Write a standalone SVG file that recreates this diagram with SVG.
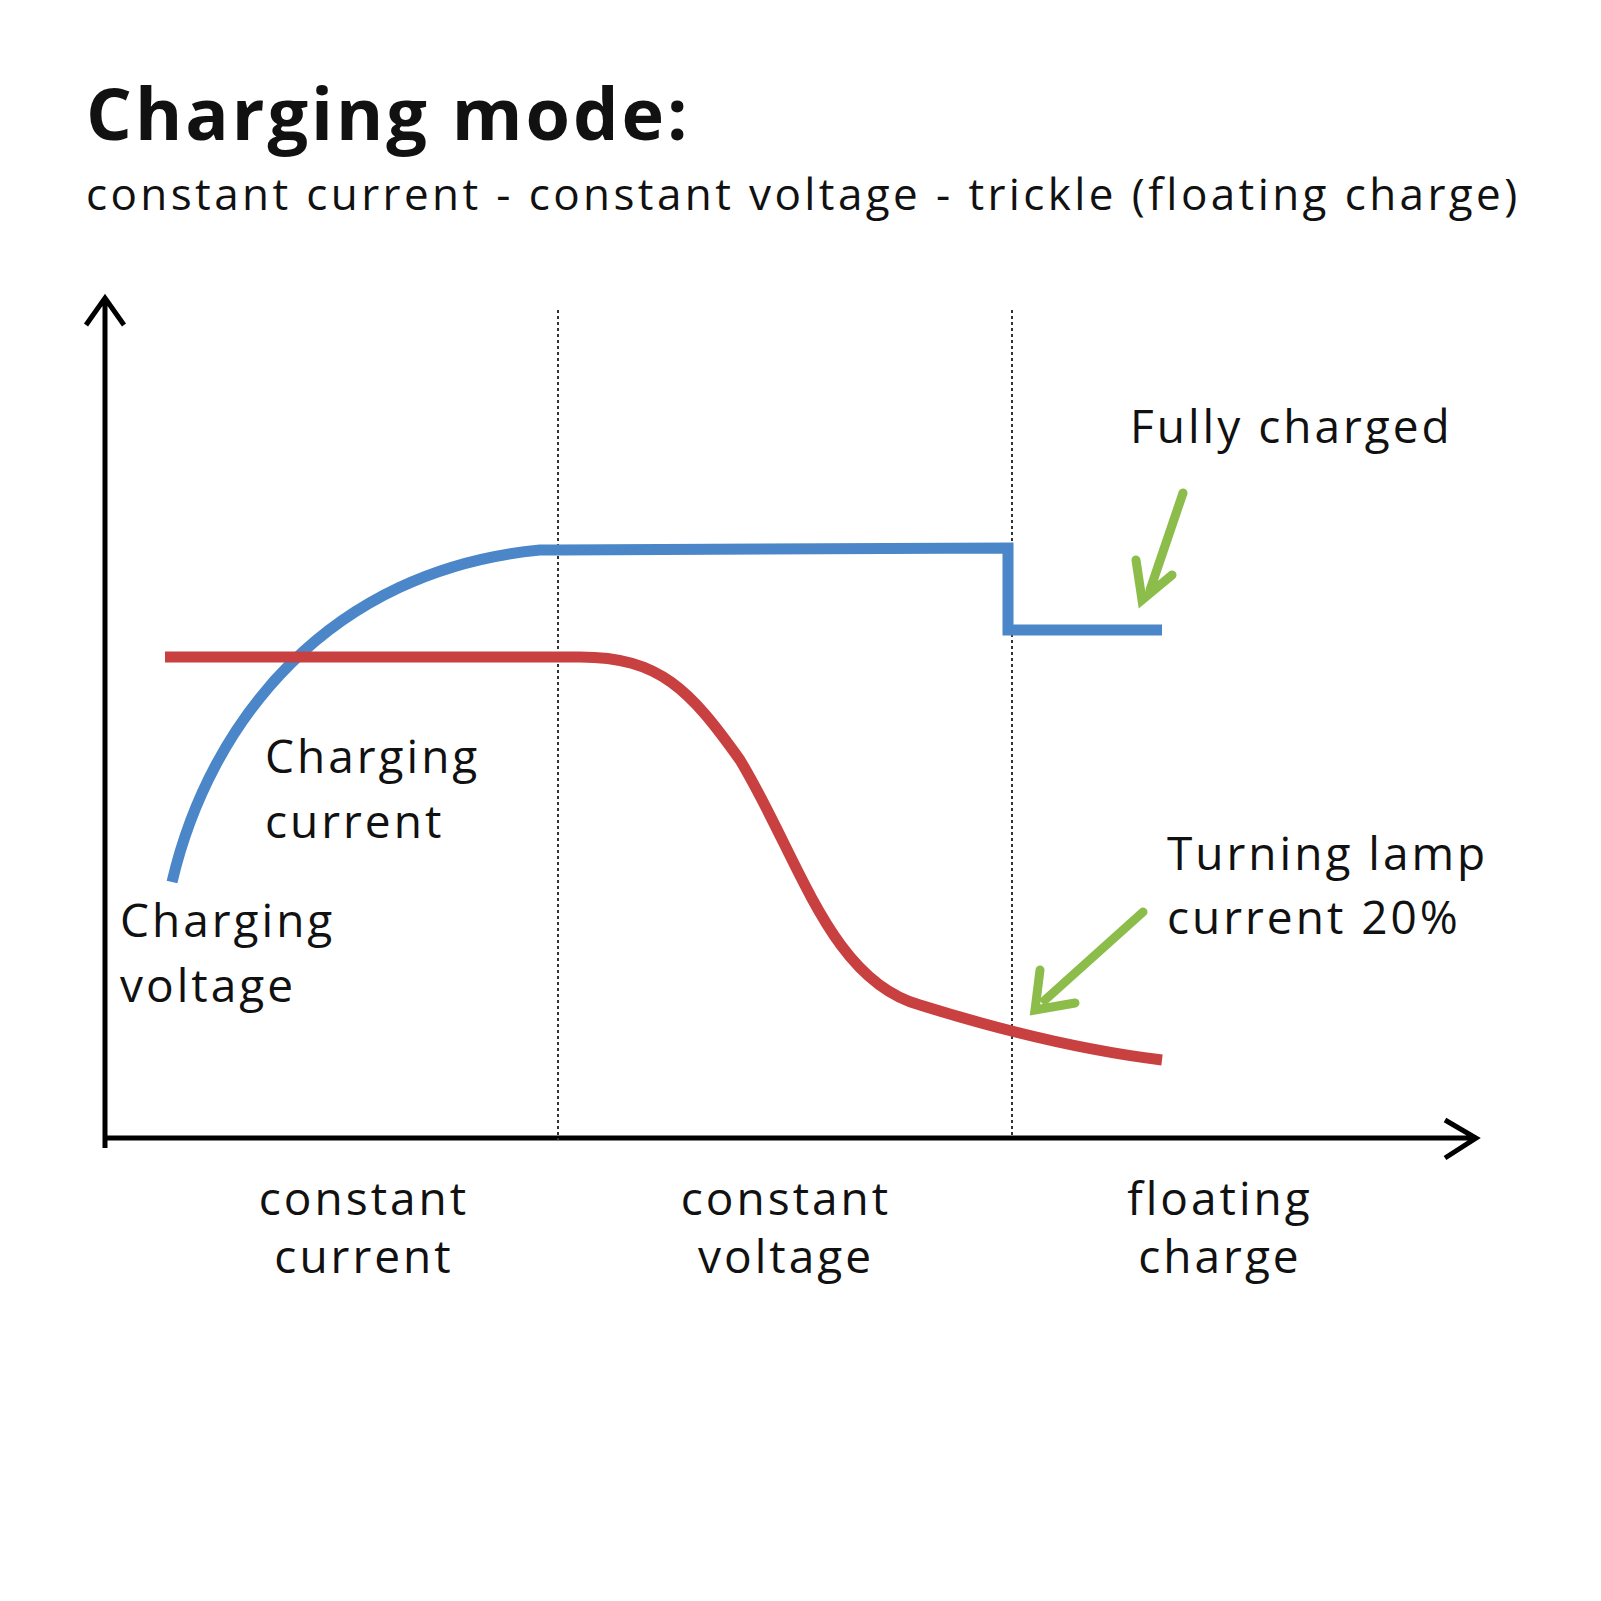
<svg xmlns="http://www.w3.org/2000/svg" width="1601" height="1601" viewBox="0 0 1601 1601">
<style>
text{font-family:"Open Sans","Noto Sans",sans-serif;fill:#111;letter-spacing:3px}
.l{font-size:46px}
.ax{stroke:#000;stroke-width:5;fill:none}
.dot{stroke:#333;stroke-width:2;stroke-dasharray:3 3}
.g{stroke:#8cbd4a;stroke-width:9;fill:none;stroke-linecap:round}
</style>
<rect width="1601" height="1601" fill="#fff"/>
<text x="86" y="140" font-size="72" font-weight="bold">Charging mode:</text>
<text x="86" y="210" font-size="44" style="letter-spacing:3.4px">constant current - constant voltage - trickle (floating charge)</text>
<g id="axes">
<path class="ax" d="M105 1148V298M86 325L105 298L124 325"/>
<path class="ax" d="M103 1138H1476M1445 1120L1476 1138L1445 1158"/>
<line class="dot" x1="558" y1="310" x2="558" y2="1140"/>
<line class="dot" x1="1012" y1="310" x2="1012" y2="1135"/>
</g>
<g id="connectors">
<path d="M172 882C210 720 330 570 540 550H558L1008 548V630H1162" stroke="#4a86c8" stroke-width="11" fill="none"/>
<path d="M165 657H580C660 657 690 690 740 760C800 860 830 980 920 1005C1000 1030 1080 1050 1162 1060" stroke="#c8403f" stroke-width="11" fill="none"/>
<path class="g" d="M1183 493L1150 590M1136 560L1142 600L1172 575"/>
<path class="g" d="M1143 912L1045 1000M1040 970L1035 1010L1075 1003"/>
</g>
<g id="labels">
<text class="l" x="1130" y="443">Fully charged</text>
<text class="l" x="265" y="773">Charging</text>
<text class="l" x="265" y="838">current</text>
<text class="l" x="120" y="937">Charging</text>
<text class="l" x="120" y="1002">voltage</text>
<text class="l" x="1167" y="870">Turning lamp</text>
<text class="l" x="1167" y="934">current 20%</text>
<text class="l" x="364" y="1215" text-anchor="middle">constant</text>
<text class="l" x="364" y="1273" text-anchor="middle">current</text>
<text class="l" x="786" y="1215" text-anchor="middle">constant</text>
<text class="l" x="786" y="1273" text-anchor="middle">voltage</text>
<text class="l" x="1220" y="1215" text-anchor="middle">floating</text>
<text class="l" x="1220" y="1273" text-anchor="middle">charge</text>
</g>
</svg>
